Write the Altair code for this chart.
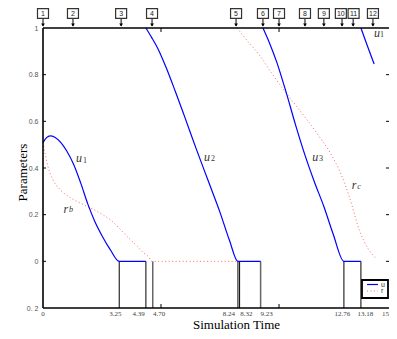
import altair as alt
import pandas as pd

# ---------------- data ----------------
# blue u curve, in four separate pieces
u1_x = [0, 0.15, 0.3, 0.5, 0.75, 1.0, 1.3, 1.6, 1.9, 2.2, 2.5, 2.85, 3.23, 4.36]
u1_y = [0.509, 0.53, 0.538, 0.532, 0.51, 0.474, 0.415, 0.335, 0.245, 0.17, 0.11, 0.05, 0.0, 0.0]
u2_x = [4.36, 4.6, 4.9, 5.2, 5.6, 6.0, 6.5, 7.0, 7.5, 7.9, 8.26, 9.22]
u2_y = [1.0, 0.96, 0.905, 0.835, 0.73, 0.62, 0.48, 0.345, 0.21, 0.09, 0.0, 0.0]
u3_x = [9.32, 9.6, 9.9, 10.3, 10.7, 11.1, 11.5, 11.9, 12.3, 12.75, 13.47]
u3_y = [1.0, 0.935, 0.855, 0.725, 0.585, 0.455, 0.34, 0.235, 0.115, 0.0, 0.0]
u4_x = [13.47, 13.73, 14.03]
u4_y = [1.0, 0.927, 0.846]

# red dotted r curve, two pieces
r1_x = [0, 0.08, 0.21, 0.42, 0.72, 1.14, 1.69, 2.29, 2.84, 3.56, 4.0, 4.24, 4.49, 4.6, 8.26]
r1_y = [0.509, 0.466, 0.406, 0.350, 0.308, 0.274, 0.244, 0.214, 0.179, 0.107, 0.064, 0.038, 0.017, 0.0, 0.0]
r2_x = [8.22, 8.7, 9.2, 9.7, 10.2, 10.7, 11.2, 11.7, 12.2, 12.6, 13.0, 13.4, 13.8, 14.11]
r2_y = [1.0, 0.94, 0.88, 0.805, 0.735, 0.67, 0.605, 0.535, 0.46, 0.38, 0.27, 0.135, 0.05, 0.013]

# event lines below y=0
events_black = [3.23, 4.36, 8.26, 8.33, 12.75, 13.47]
events_gray = [4.65, 9.22]

# x labels (text, position under the axis)
xlab_text = ["0", "3.25", "4.39", "4.70", "8.24", "8.32", "9.23", "12.76", "13.18"]
xlab_pos = [0, 3.07, 4.05, 4.92, 7.88, 8.62, 9.48, 12.68, 13.66]
xlab_edge = ["15"]

# axis range shown (the original is cut at the right edge)
x_min, x_max = 0, 14.66
y_min, y_max = -0.2, 1.0

# y axis values
y_values = [-0.2, 0, 0.2, 0.4, 0.6, 0.8, 1.0]
y_ticks = [0, 0.2, 0.4, 0.6, 0.8]
x_ticks = [5, 10]

# numbered markers on top
mark_num = ["1", "2", "3", "4", "5", "6", "7", "8", "9", "10", "11", "12"]
mark_pos = [0, 1.27, 3.31, 4.62, 8.18, 9.32, 10.0, 11.1, 11.9, 12.67, 13.14, 13.98]
box_pos = [0, 1.27, 3.31, 4.62, 8.18, 9.32, 10.0, 11.1, 11.9, 12.62, 13.16, 13.98]

# curve annotations: main letter, subscript
ann_main = ["u", "r", "u", "u", "r", "u"]
ann_sub = ["1", "b", "2", "3", "c", "1"]
ann_sub_italic = [False, True, False, False, True, False]
ann_x = [1.53, 0.97, 6.95, 11.53, 13.18, 14.15]
ann_y = [0.444, 0.226, 0.449, 0.449, 0.329, 0.979]
sub_x = [1.78, 1.19, 7.20, 11.78, 13.39, 14.36]
sub_y = [0.432, 0.218, 0.440, 0.440, 0.318, 0.968]

# ---------------- tables ----------------
def seg_frame(pieces):
    rows = []
    for k, (xx, yy) in enumerate(pieces):
        for a, b in zip(xx, yy):
            rows.append({"seg": k, "x": a, "y": b})
    return pd.DataFrame(rows)

u_df = seg_frame([(u1_x, u1_y), (u2_x, u2_y), (u3_x, u3_y), (u4_x, u4_y)])
r_df = seg_frame([(r1_x, r1_y), (r2_x, r2_y)])

W, H = 346, 280
xscale = alt.Scale(domain=[x_min, x_max], nice=False, zero=False)
yscale = alt.Scale(domain=[y_min, y_max], nice=False, zero=False)

BLUE = "#0000ff"
RED = "#ff6666"
SERIF = "Liberation Serif"
SANS = "Liberation Sans"

x_axis = alt.Axis(labels=False, ticks=False, tickSize=0, domain=False, grid=False,
                  title="Simulation Time", titleFont=SERIF, titleFontSize=13,
                  titleFontWeight="normal", titleColor="black",
                  titleX=193, titleY=20, titleAlign="center", titleBaseline="alphabetic")
y_axis = alt.Axis(values=y_values,
                  labelExpr="datum.value < -0.1 ? '0. 2' : format(datum.value, '~g')",
                  ticks=False, tickSize=0, domain=False, grid=False, labelOverlap=False,
                  labelFont=SANS, labelFontSize=7, labelColor="#555", labelPadding=5,
                  title="Parameters", titleFont=SERIF, titleFontSize=13,
                  titleFontWeight="normal", titleColor="black",
                  titleX=-21, titleY=144, titleAngle=270, titleAlign="center",
                  titleBaseline="middle")

red_line = alt.Chart(r_df).mark_line(color=RED, strokeWidth=1, strokeDash=[1, 2.5],
                                     interpolate="monotone").encode(
    x=alt.X("x:Q", scale=xscale, axis=x_axis),
    y=alt.Y("y:Q", scale=yscale, axis=y_axis),
    detail="seg:N",
)
blue_line = alt.Chart(u_df).mark_line(color=BLUE, strokeWidth=1.2,
                                      interpolate="monotone").encode(
    x=alt.X("x:Q", scale=xscale),
    y=alt.Y("y:Q", scale=yscale),
    detail="seg:N",
)

ev_b = alt.Chart(pd.DataFrame({"x": events_black})).mark_rule(color="black", strokeWidth=1).encode(
    x=alt.X("x:Q", scale=xscale), y=alt.datum(0), y2=alt.datum(-0.2))
ev_g = alt.Chart(pd.DataFrame({"x": events_gray})).mark_rule(color="#666", strokeWidth=1.5).encode(
    x=alt.X("x:Q", scale=xscale), y=alt.datum(0), y2=alt.datum(-0.2))

# frame (left, top, bottom; the right side lies beyond the cut)
frame_h = alt.Chart(pd.DataFrame({"y": [y_min, y_max]})).mark_rule(color="black", strokeWidth=1.6).encode(
    y=alt.Y("y:Q", scale=yscale), x=alt.value(0), x2=alt.value(W))
frame_v = alt.Chart(pd.DataFrame({"x": [x_min]})).mark_rule(color="black", strokeWidth=1.6).encode(
    x=alt.X("x:Q", scale=xscale), y=alt.datum(y_min), y2=alt.datum(y_max))

ydf = pd.DataFrame({"y": y_ticks})
tick_l = alt.Chart(ydf).mark_rule(color="black").encode(
    y=alt.Y("y:Q", scale=yscale), x=alt.value(0), x2=alt.value(3))
tick_r = alt.Chart(ydf).mark_rule(color="black").encode(
    y=alt.Y("y:Q", scale=yscale), x=alt.value(W - 3), x2=alt.value(W))
xdf = pd.DataFrame({"x": x_ticks})
tick_t = alt.Chart(xdf).mark_rule(color="black").encode(
    x=alt.X("x:Q", scale=xscale), y=alt.value(0), y2=alt.value(4))
tick_b = alt.Chart(xdf).mark_rule(color="black").encode(
    x=alt.X("x:Q", scale=xscale), y=alt.value(H - 4), y2=alt.value(H))

xl = alt.Chart(pd.DataFrame({"x": xlab_pos, "t": xlab_text})).mark_text(
    font=SERIF, fontSize=7, color="#444", baseline="middle", align="center").encode(
    x=alt.X("x:Q", scale=xscale), y=alt.value(286), text="t:N")
xl_edge = alt.Chart(pd.DataFrame({"x": [x_max], "t": xlab_edge})).mark_text(
    font=SERIF, fontSize=7, color="#444", baseline="middle", align="right").encode(
    x=alt.X("x:Q", scale=xscale), y=alt.value(286), text="t:N")

mdf = pd.DataFrame({"x": mark_pos, "bx": box_pos, "t": mark_num})
arrows = alt.Chart(mdf).mark_rule(color="black", strokeWidth=1).encode(
    x=alt.X("x:Q", scale=xscale), y=alt.value(-10), y2=alt.value(-2))
heads = alt.Chart(mdf).mark_point(shape="triangle-down", filled=True, color="black",
                                  size=14, opacity=1).encode(
    x=alt.X("x:Q", scale=xscale), y=alt.value(-3))
boxes = alt.Chart(mdf).mark_point(shape="M-1,-0.9H1V0.9H-1Z", size=121, filled=False,
                                  fill="white", fillOpacity=1, stroke="#333",
                                  strokeWidth=1.2, opacity=1).encode(
    x=alt.X("bx:Q", scale=xscale), y=alt.value(-14.5))
nums = alt.Chart(mdf).mark_text(font=SANS, fontSize=7, color="#222",
                                baseline="middle", align="center").encode(
    x=alt.X("bx:Q", scale=xscale), y=alt.value(-14.5), text="t:N")

adf = pd.DataFrame({"x": ann_x, "y": ann_y, "t": ann_main,
                    "sx": sub_x, "sy": sub_y, "s": ann_sub, "it": ann_sub_italic})
ann1 = alt.Chart(adf).mark_text(font=SERIF, fontStyle="italic", fontSize=12, color="#333",
                                baseline="middle", align="center").encode(
    x=alt.X("x:Q", scale=xscale), y=alt.Y("y:Q", scale=yscale), text="t:N")
ann2 = alt.Chart(adf).transform_filter("!datum.it").mark_text(
    font=SERIF, fontSize=8, color="#333", baseline="middle", align="center").encode(
    x=alt.X("sx:Q", scale=xscale), y=alt.Y("sy:Q", scale=yscale), text="s:N")
ann3 = alt.Chart(adf).transform_filter("datum.it").mark_text(
    font=SERIF, fontStyle="italic", fontSize=8, color="#333", baseline="middle",
    align="center").encode(
    x=alt.X("sx:Q", scale=xscale), y=alt.Y("sy:Q", scale=yscale), text="s:N")

# legend drawn by hand
leg_box = alt.Chart(pd.DataFrame({"a": [0]})).mark_rect(
    fill="white", stroke="black", strokeWidth=1.8).encode(
    x=alt.value(W - 27), x2=alt.value(W - 1), y=alt.value(252), y2=alt.value(270))
leg_u = alt.Chart(pd.DataFrame({"a": [0]})).mark_rule(color=BLUE, strokeWidth=1.2).encode(
    x=alt.value(W - 22), x2=alt.value(W - 11), y=alt.value(256.5))
leg_r = alt.Chart(pd.DataFrame({"a": [0]})).mark_rule(color=RED, strokeWidth=1, strokeDash=[1, 2.5]).encode(
    x=alt.value(W - 22), x2=alt.value(W - 11), y=alt.value(263))
leg_t = alt.Chart(pd.DataFrame({"t": ["u", "r"], "yy": [256.5, 263]})).mark_text(
    font=SANS, fontSize=7, color="#333", align="left", baseline="middle").encode(
    x=alt.value(W - 8), y=alt.Y("yy:Q", scale=None), text="t:N")

chart = alt.layer(
    red_line, ev_b, ev_g, blue_line, frame_h, frame_v, tick_l, tick_r, tick_t, tick_b,
    xl, xl_edge, arrows, heads, boxes, nums, ann1, ann2, ann3, leg_box, leg_u, leg_r, leg_t,
).properties(
    width=W, height=H,
    padding={"left": 35, "top": 20, "right": 0, "bottom": 23},
    autosize=alt.AutoSizeParams(type="none"),
).configure_view(stroke=None)

chart.save("out.html", embed_options={"renderer": "svg", "actions": False})
